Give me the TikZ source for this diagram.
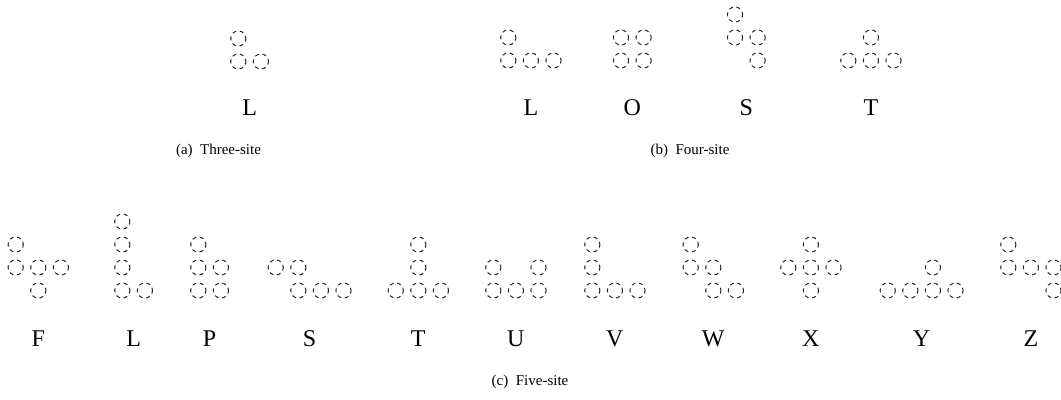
\documentclass[tikz,border=0pt]{standalone}
\usepackage{fontspec}
\setmainfont{Liberation Serif}
\begin{document}
\begin{tikzpicture}[x=0.5pt,y=-0.5pt,
  site/.style={circle,draw=black!85,line width=0.5pt,dash pattern=on 2pt off 1.8pt,dash phase=0.6pt,minimum size=7.6pt,inner sep=0pt},
  lab/.style={anchor=base,inner sep=0pt,font=\fontsize{12}{14}\selectfont},
  captext/.style={anchor=base,inner sep=0pt,font=\fontsize{7.5}{9}\selectfont}]
\useasboundingbox (0,0) rectangle (1061,400);
\newcommand\polyo[7]{%
  \foreach \cx/\ry [count=\i] in {#5} {\node[site] (#1-\i) at ({#2+\cx*22.6},{#3-\ry*23}) {};}
  \node[lab] (#1-label) at ({#2+(#4-1)*11.3},#7) {#6};
}
% (a) three-site
\polyo{a-L}{238.3}{61.5}{2}{0/0,1/0,0/1}{L}{116}
\node[captext] (capa) at (218.5,155) {(a)\enspace Three-site};
% (b) four-site
\polyo{b-L}{508.3}{60.5}{3}{0/0,1/0,2/0,0/1}{L}{116}
\polyo{b-O}{621}{60.5}{2}{0/0,1/0,0/1,1/1}{O}{116}
\polyo{b-S}{735}{60.5}{2}{1/0,0/1,1/1,0/2}{S}{116}
\polyo{b-T}{848.3}{60.5}{3}{0/0,1/0,2/0,1/1}{T}{116}
\node[captext] (capb) at (690,155) {(b)\enspace Four-site};
% (c) five-site
\polyo{c-F}{15.7}{290.5}{3}{0/2,0/1,1/1,2/1,1/0}{F}{346.5}
\polyo{c-L}{122.3}{290.5}{2}{0/3,0/2,0/1,0/0,1/0}{L}{346.5}
\polyo{c-P}{198.3}{290.5}{2}{0/2,0/1,1/1,0/0,1/0}{P}{346.5}
\polyo{c-S}{275.7}{290.5}{4}{0/1,1/1,1/0,2/0,3/0}{S}{346.5}
\polyo{c-T}{395.7}{290.5}{3}{1/2,1/1,0/0,1/0,2/0}{T}{346.5}
\polyo{c-U}{493.3}{290.5}{3}{0/1,2/1,0/0,1/0,2/0}{U}{346.5}
\polyo{c-V}{592.3}{290.5}{3}{0/2,0/1,0/0,1/0,2/0}{V}{346.5}
\polyo{c-W}{690.7}{290.5}{3}{0/2,0/1,1/1,1/0,2/0}{W}{346.5}
\polyo{c-X}{788.3}{290.5}{3}{1/2,0/1,1/1,2/1,1/0}{X}{346.5}
\polyo{c-Y}{887.7}{290.5}{4}{2/1,0/0,1/0,2/0,3/0}{Y}{346.5}
\polyo{c-Z}{1008.3}{290.5}{3}{0/2,0/1,1/1,2/1,2/0}{Z}{346.5}
\node[captext] (capc) at (530,386) {(c)\enspace Five-site};
\end{tikzpicture}
\end{document}
